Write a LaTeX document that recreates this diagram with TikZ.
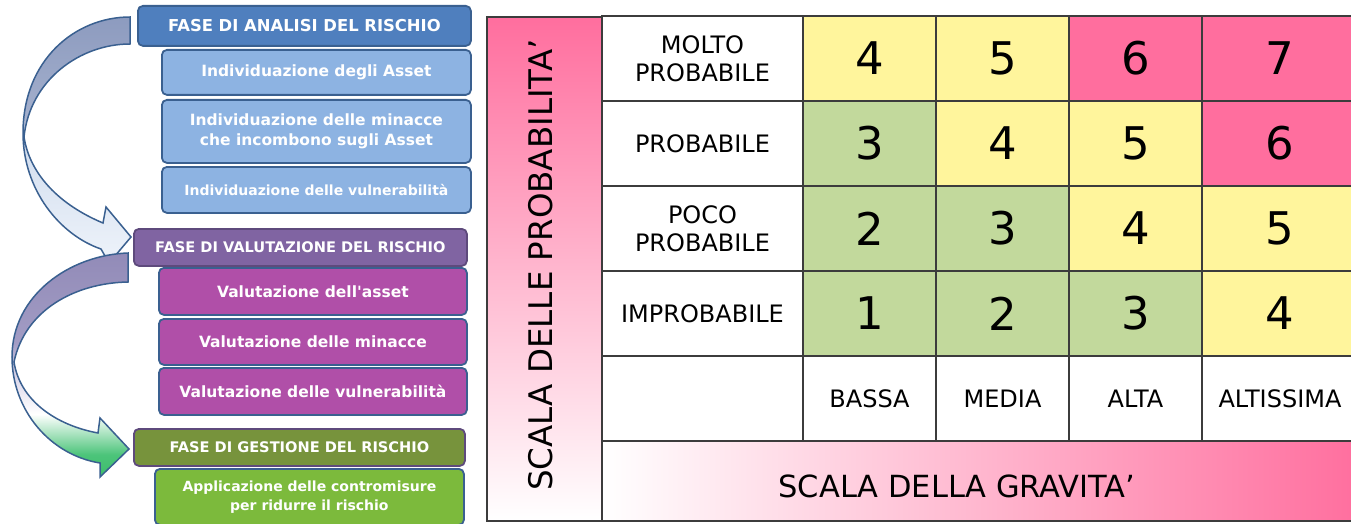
\documentclass[tikz,border=0pt]{standalone}
\usepackage{fontspec}
\setmainfont{DejaVu Sans}
\newfontfamily\boxfont{DejaVu Sans}
\definecolor{hdrblue}{HTML}{4F7FBE}
\definecolor{subblue}{HTML}{8DB3E2}
\definecolor{hdrpurple}{HTML}{8064A2}
\definecolor{submagenta}{HTML}{B04FA8}
\definecolor{hdrolive}{HTML}{77933C}
\definecolor{subgreen}{HTML}{7CBA3C}
\definecolor{edgeblue}{HTML}{3A6090}
\definecolor{edgepurple}{HTML}{5E4A7C}
\definecolor{cellgreen}{HTML}{C2D99C}
\definecolor{cellyellow}{HTML}{FFF59C}
\definecolor{cellpink}{HTML}{FF6E9E}
\definecolor{gridgray}{HTML}{3C3C3C}
\definecolor{aonetop}{HTML}{8D9BBF}
\definecolor{aoneup}{HTML}{A3AFCC}
\definecolor{aonemid}{HTML}{D5E0F0}
\definecolor{aonebot}{HTML}{EEF3FA}
\definecolor{atwotop}{HTML}{928BB8}
\definecolor{atwoup}{HTML}{A29CC4}
\definecolor{atwomid}{HTML}{DDD9EC}
\definecolor{atwogreen}{HTML}{4CC47A}
\definecolor{atwobot}{HTML}{3DBE6A}
\pgfdeclareverticalshading{arrowone}{100bp}{color(0bp)=(aonebot); color(25bp)=(aonebot);
  color(47bp)=(aonemid); color(55bp)=(aoneup); color(75bp)=(aonetop); color(100bp)=(aonetop)}
\pgfdeclareverticalshading{arrowtwo}{100bp}{color(0bp)=(atwobot); color(25bp)=(atwobot);
  color(30bp)=(atwogreen); color(39bp)=(white); color(47bp)=(atwomid); color(55bp)=(atwoup);
  color(75bp)=(atwotop); color(100bp)=(atwotop)}
\tikzset{
  phase/.style={rounded corners=5pt, line width=1.8pt, text=white, align=center,
    inner sep=0pt, anchor=north west},
  cell/.style={draw=gridgray, line width=1.3pt, inner sep=0pt, align=center,
    font=\fontsize{24}{28}\selectfont}
}

\begin{document}
\begin{tikzpicture}[x=1pt,y=-1pt]
\clip (0,0) rectangle (1351,524);
\useasboundingbox (0,0) rectangle (1351,524);
% curved arrows
\shade[shading=arrowone, draw=edgeblue, line width=1.5pt]
  (130,17) .. controls (75,17) and (23,60) .. (23,133)
  .. controls (23,190) and (60,235) .. (101,249)
  -- (109,263) -- (131,237) -- (106,207) -- (103,223)
  .. controls (60,205) and (30,175) .. (24,137)
  .. controls (30,80) and (80,44) .. (130,44) -- cycle;
\shade[shading=arrowtwo, draw=edgeblue, line width=1.5pt]
  (128,253) .. controls (70,255) and (12,295) .. (12,357)
  .. controls (12,410) and (50,455) .. (100,463)
  -- (100,477) -- (129,449) -- (100,418) -- (98,433)
  .. controls (55,425) and (20,400) .. (14,362)
  .. controls (25,310) and (75,283) .. (128,282) -- cycle;
% phases
\node[phase, draw=edgeblue, fill=hdrblue, minimum width=333, minimum height=40,
  font=\boxfont\fontsize{16.4}{19}\selectfont\bfseries] (analisi) at (137,5) {FASE DI ANALISI DEL RISCHIO};
\node[phase, draw=edgeblue, fill=subblue, minimum width=309, minimum height=45,
  font=\boxfont\fontsize{15.5}{20}\selectfont\bfseries] (asset) at (161,49) {Individuazione degli Asset};
\node[phase, draw=edgeblue, fill=subblue, minimum width=309, minimum height=63,
  font=\boxfont\fontsize{15.5}{20}\selectfont\bfseries] (minacce) at (161,99) {Individuazione delle minacce\\che incombono sugli Asset};
\node[phase, draw=edgeblue, fill=subblue, minimum width=309, minimum height=46,
  font=\boxfont\fontsize{14}{18}\selectfont\bfseries] (vuln) at (161,166) {Individuazione delle vulnerabilità};
\node[phase, draw=edgepurple, fill=hdrpurple, minimum width=333, minimum height=37,
  font=\boxfont\fontsize{14.6}{18}\selectfont\bfseries] (valutazione) at (133,228) {FASE DI VALUTAZIONE DEL RISCHIO};
\node[phase, draw=edgeblue, fill=submagenta, minimum width=308, minimum height=47,
  font=\boxfont\fontsize{15.5}{20}\selectfont\bfseries] (valasset) at (158,267) {Valutazione dell'asset};
\node[phase, draw=edgeblue, fill=submagenta, minimum width=308, minimum height=46,
  font=\boxfont\fontsize{15.5}{20}\selectfont\bfseries] (valmin) at (158,318) {Valutazione delle minacce};
\node[phase, draw=edgeblue, fill=submagenta, minimum width=308, minimum height=47,
  font=\boxfont\fontsize{15.5}{20}\selectfont\bfseries] (valvuln) at (158,367) {Valutazione delle vulnerabilità};
\node[phase, draw=edgepurple, fill=hdrolive, minimum width=331, minimum height=37,
  font=\boxfont\fontsize{14.6}{18}\selectfont\bfseries] (gestione) at (133,428) {FASE DI GESTIONE DEL RISCHIO};
\node[phase, draw=edgeblue, fill=subgreen, minimum width=309, minimum height=56,
  font=\boxfont\fontsize{14}{19}\selectfont\bfseries] (contromisure) at (154,468) {Applicazione delle contromisure\\per ridurre il rischio};
% risk matrix
\shade[top color=cellpink, bottom color=white, draw=gridgray, line width=1.3pt]
  (487,17) rectangle (602,521);
\node[rotate=90, font=\fontsize{32.5}{36}\selectfont] (probscale) at (541,265) {SCALA DELLE PROBABILITA’};
\shade[left color=white, right color=cellpink, draw=gridgray, line width=1.3pt]
  (602,441) rectangle (1360,521);
\node[font=\fontsize{30.5}{34}\selectfont] (gravscale) at (957,486) {SCALA DELLA GRAVITA’};
\foreach \lab [count=\r from 0] in {IMPROBABILE, {POCO\\PROBABILE}, PROBABILE, {MOLTO\\PROBABILE}} {
  \pgfmathsetmacro\cy{313.5-85*\r}
  \node[cell, minimum width=201, minimum height=85] (row\r) at (702.5,\cy) {\lab};
  \foreach \cx/\cw [count=\c] in {869.5/133, 1002.5/133, 1135.5/133, 1280/156} {
    \pgfmathtruncatemacro\v{\r+\c}
    \ifnum\v<4 \def\cc{cellgreen}\else\ifnum\v<6 \def\cc{cellyellow}\else\def\cc{cellpink}\fi\fi
    \node[cell, fill=\cc, minimum width=\cw, minimum height=85,
      font=\fontsize{45}{50}\selectfont] (cell\r\c) at (\cx,\cy) {\v};
  }
}
\node[cell, minimum width=201, minimum height=85] (corner) at (702.5,398.5) {};
\foreach \lab/\cx/\cw [count=\c] in {BASSA/869.5/133, MEDIA/1002.5/133, ALTA/1135.5/133, ALTISSIMA/1280/156}
  \node[cell, minimum width=\cw, minimum height=85] (sev\c) at (\cx,398.5) {\lab};
\end{tikzpicture}
\end{document}
